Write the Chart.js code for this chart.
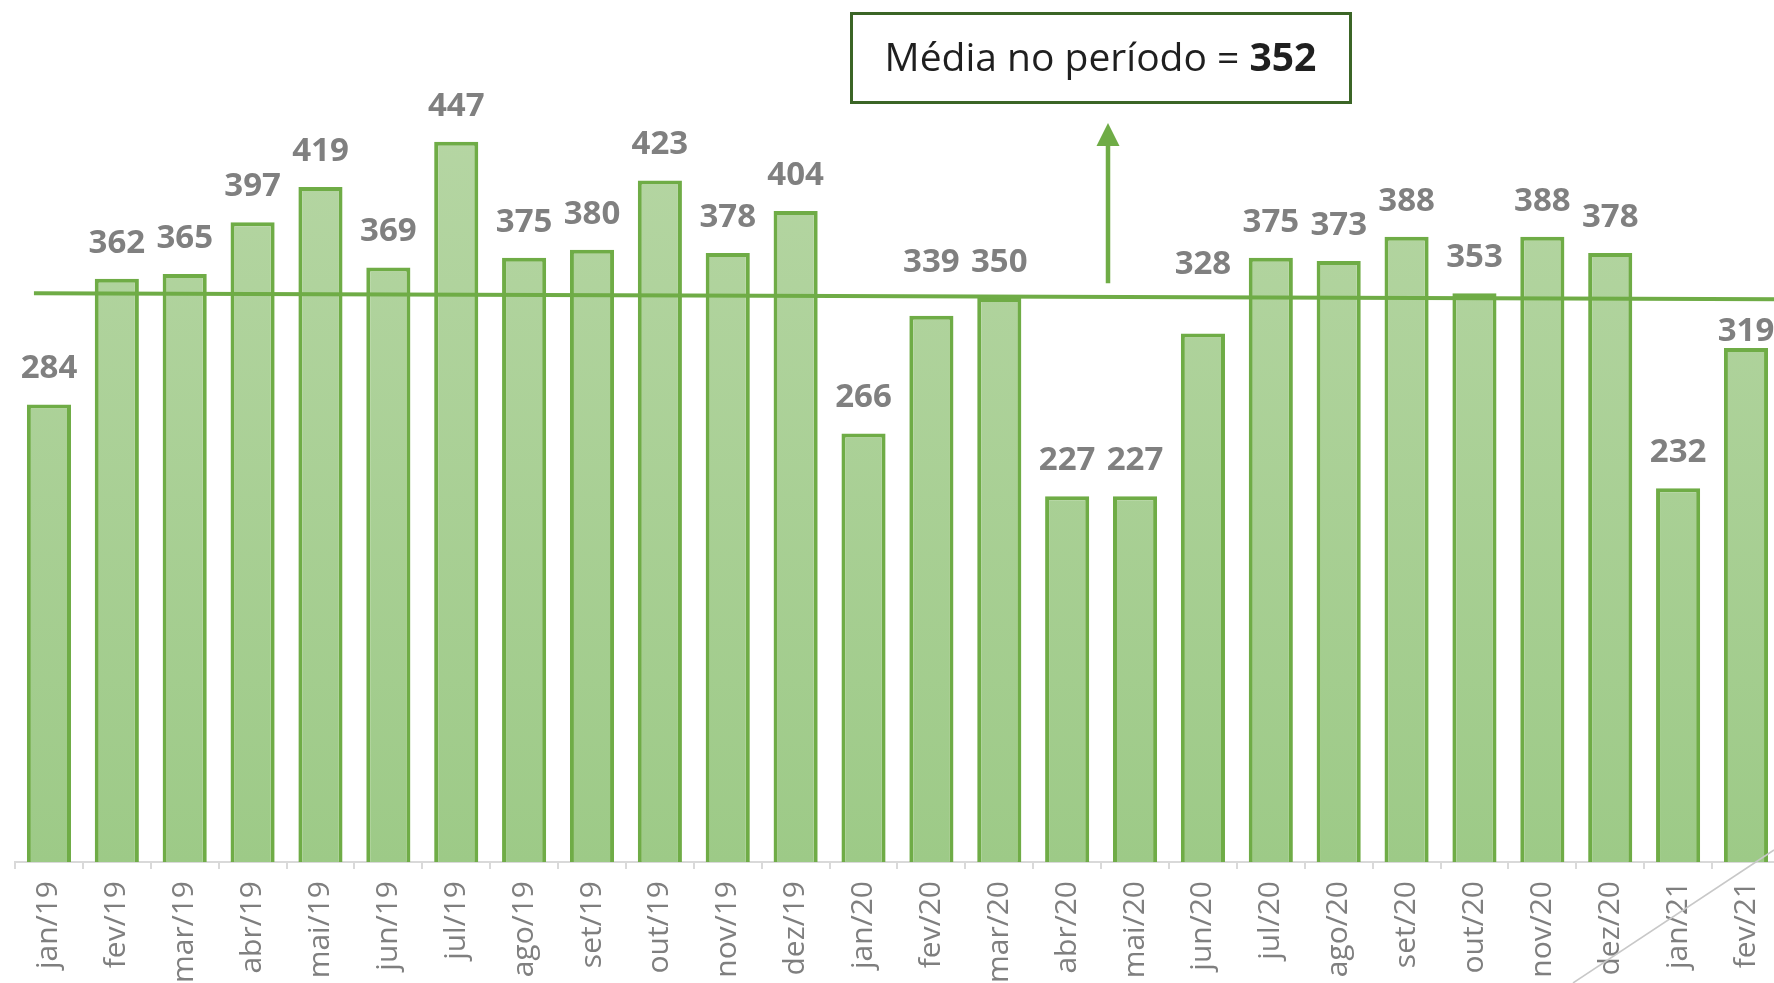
<!DOCTYPE html>
<html><head><meta charset="utf-8">
<script src="https://cdn.jsdelivr.net/npm/chart.js@4.4.1/dist/chart.umd.min.js"></script>
<style>
html,body{margin:0;padding:0;background:#fff;overflow:hidden;width:1774px;height:983px;}
#c{position:absolute;left:0;top:0;}
</style></head><body>
<canvas id="c" width="1794" height="983" style="width:1794px;height:983px"></canvas>
<script>
const categories = ['jan/19','fev/19','mar/19','abr/19','mai/19','jun/19','jul/19','ago/19','set/19','out/19','nov/19','dez/19',
  'jan/20','fev/20','mar/20','abr/20','mai/20','jun/20','jul/20','ago/20','set/20','out/20','nov/20','dez/20','jan/21','fev/21'];
const values = [284,362,365,397,419,369,447,375,380,423,378,404,266,339,350,227,227,328,375,373,388,353,388,378,232,319];
const meanText = 'Média no período = ';
const mean = values.reduce((a,b)=>a+b,0)/values.length;

// label offsets above bar top (px), style only
const labelLift = values.map(()=>38);
labelLift[13] = 56; labelLift[17] = 71; labelLift[25] = 19;

const GREEN = '#6FAC46';
const decor = {
  id:'decor',
  afterDatasetsDraw(chart){
    const {ctx, chartArea, scales:{x,y}} = chart;
    const meta = chart.getDatasetMeta(0);
    ctx.save();
    // mean line (hand-drawn look: very slight slope as in the source)
    const my = y.getPixelForValue(mean);
    ctx.strokeStyle = GREEN; ctx.lineWidth = 4;
    ctx.beginPath(); ctx.moveTo(x.getPixelForValue(0)-15, my-2); ctx.lineTo(chartArea.right, my+4); ctx.stroke();
    // value labels
    const fs = 33;
    ctx.font = 'bold '+fs+'px "Open Sans"';
    ctx.fillStyle = '#808080'; ctx.textAlign = 'center'; ctx.textBaseline = 'alphabetic';
    meta.data.forEach((bar,i)=>{
      const cy = bar.y - labelLift[i];
      ctx.fillText(String(values[i]), bar.x, cy + 0.357*fs);
    });
    // arrow
    const ax = 1108;
    ctx.strokeStyle = GREEN; ctx.lineWidth = 4.5;
    ctx.beginPath(); ctx.moveTo(ax, my-12); ctx.lineTo(ax, 143); ctx.stroke();
    ctx.fillStyle = GREEN;
    ctx.beginPath(); ctx.moveTo(ax,123); ctx.lineTo(ax-11.5,146); ctx.lineTo(ax+11.5,146); ctx.closePath(); ctx.fill();
    // box
    ctx.fillStyle = '#fff'; ctx.fillRect(851.5,13.5,499,89);
    ctx.strokeStyle = '#3B6526'; ctx.lineWidth = 3; ctx.strokeRect(851.5,13.5,499,89);
    const bs = 39;
    const bold = String(Math.round(mean));
    ctx.font = bs+'px "Open Sans"'; const w1 = ctx.measureText(meanText).width;
    ctx.font = 'bold '+bs+'px "Open Sans"'; const w2 = ctx.measureText(bold).width;
    const x0 = 1100.5 - (w1+w2)/2;
    ctx.fillStyle = '#1f1f1f'; ctx.textAlign = 'left';
    ctx.font = bs+'px "Open Sans"'; ctx.fillText(meanText, x0, 71);
    ctx.font = 'bold '+bs+'px "Open Sans"'; ctx.fillText(bold, x0+w1, 71);
    ctx.restore();
  },
  afterDraw(chart){
    const ctx = chart.ctx;
    ctx.save();
    ctx.strokeStyle = '#C8C8C8'; ctx.lineWidth = 1.5;
    ctx.beginPath(); ctx.moveTo(1573,983); ctx.lineTo(1774,850); ctx.stroke();
    ctx.restore();
  }
};

new Chart(document.getElementById('c'), {
  type:'bar',
  data:{ labels:categories, datasets:[{
    data:values,
    backgroundColor:(c)=>{
      const a = c.chart.chartArea; if(!a) return '#A8D094';
      const g = c.chart.ctx.createLinearGradient(0,100,0,a.bottom);
      g.addColorStop(0,'#B6D6A4'); g.addColorStop(1,'#9DCA87');
      return g;
    },
    borderColor:GREEN, borderWidth:4,
    categoryPercentage:1, barPercentage:0.65
  }]},
  options:{
    responsive:false, maintainAspectRatio:false, animation:false, devicePixelRatio:1,
    layout:{padding:{left:15,right:1,top:0,bottom:0}},
    plugins:{legend:{display:false}, tooltip:{enabled:false}},
    scales:{
      x:{
        afterFit:(s)=>{ s.height = 121; },
        grid:{display:true, drawOnChartArea:false, drawTicks:true, tickLength:7, color:'#D9D9D9', lineWidth:2, offset:true},
        border:{display:true, color:'#D9D9D9', width:2},
        ticks:{autoSkip:false, minRotation:90, maxRotation:90, padding:12, color:'#7F7F7F', font:{family:'"Open Sans"', size:30}}
      },
      y:{display:false, min:0, max:535}
    }
  },
  plugins:[decor]
});
</script>
</body></html>
